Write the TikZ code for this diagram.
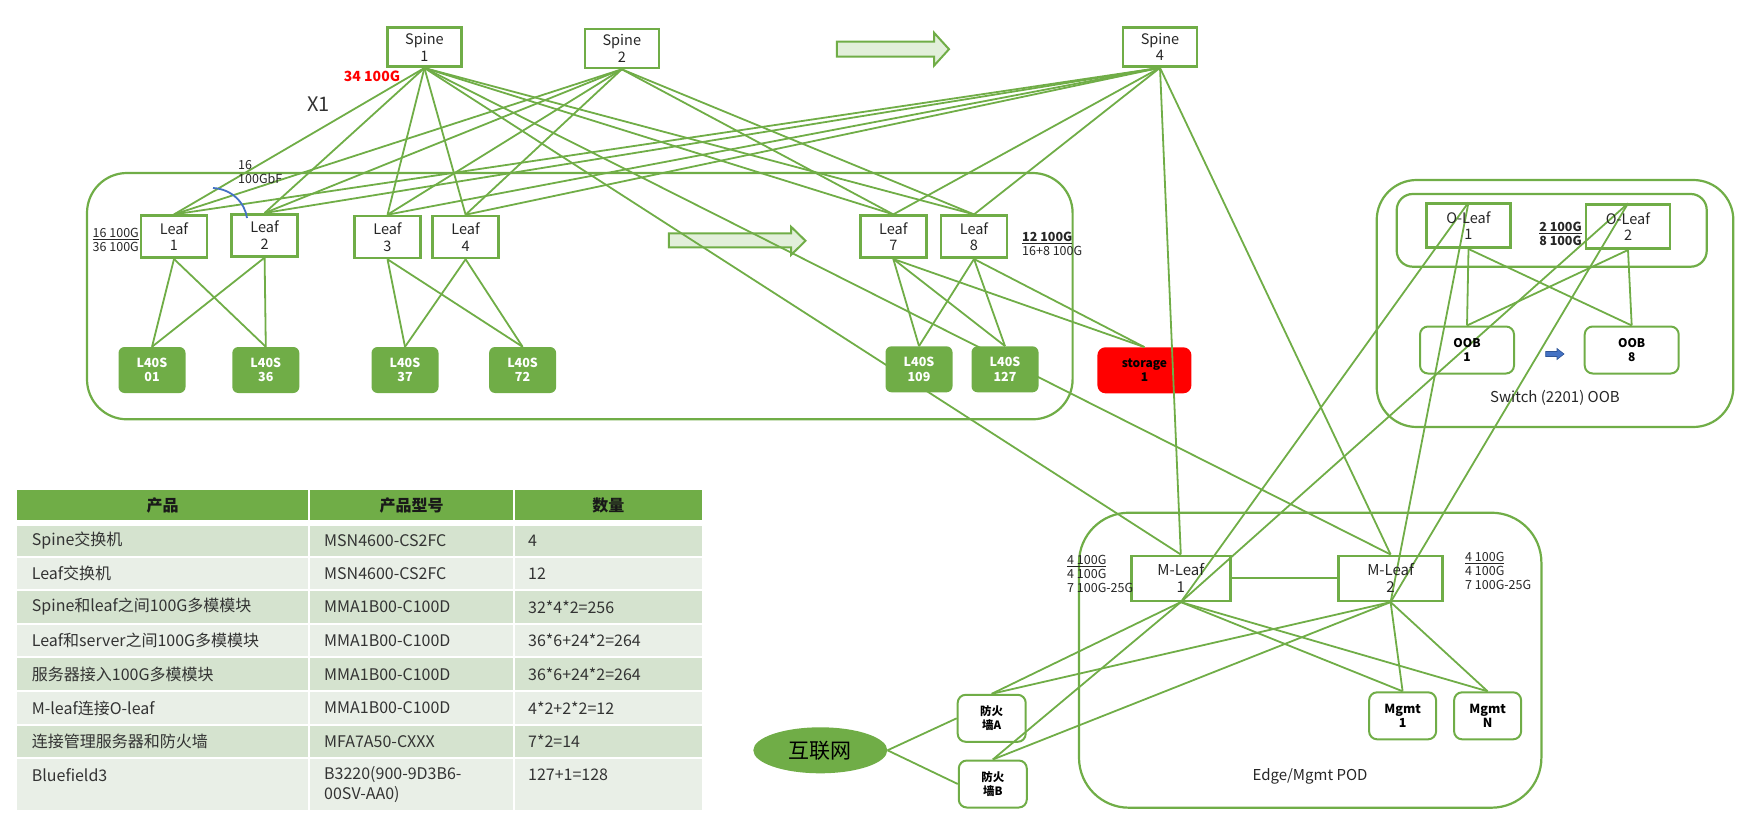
\documentclass[tikz,border=0pt]{standalone}
\usepackage{fontspec}
\setmainfont{Noto Sans CJK SC}
\usetikzlibrary{shapes.geometric}
\definecolor{gl}{HTML}{70AD47}
\definecolor{afill}{HTML}{E2EFDA}
\definecolor{rowd}{HTML}{D5E3CF}
\definecolor{rowl}{HTML}{E9EFE7}
\definecolor{bl}{HTML}{4472C4}
\definecolor{dbl}{HTML}{2F5597}
\pgfdeclarelayer{bg}
\pgfdeclarelayer{wires}
\pgfsetlayers{bg,wires,main}
\tikzset{
  sw/.style={draw=gl, line width=2.6pt, inner sep=0pt, align=center, text=black!85, font=\fontsize{14.5}{16.5}\selectfont},
  spinebox/.style={sw, minimum width=74pt, minimum height=39pt},
  leafbox/.style={sw, minimum width=66pt, minimum height=42pt},
  oleafbox/.style={sw, minimum width=84pt, minimum height=44pt},
  mleafbox/.style={sw, minimum height=45pt, font=\fontsize{15}{17}\selectfont},
  gpu/.style={fill=gl, rounded corners=6pt, minimum width=67pt, minimum height=46pt, inner sep=0pt, align=center, text=white, font=\bfseries\fontsize{12.5}{14.5}\selectfont},
  sbox/.style={draw=gl, line width=2pt, rounded corners=8pt, inner sep=0pt, align=center, text=black, font=\bfseries\fontsize{12}{14}\selectfont},
  podbox/.style={draw=gl, line width=2.2pt},
  wire/.style={draw=gl, line width=1.8pt},
  lbl/.style={inner sep=0pt, text=black!85, font=\fontsize{12.5}{14}\selectfont},
  bigarrow/.style={draw=gl, line width=2pt, fill=afill},
  tcell/.style={inner sep=0pt, anchor=west, text=black!80, font=\fontsize{16}{19}\selectfont},
  thead/.style={inner sep=0pt, text=black!90, font=\bfseries\fontsize{16}{19}\selectfont},
}
\begin{document}
\begin{tikzpicture}[x=1pt,y=-1pt]
\useasboundingbox (0,0) rectangle (1760,834);

\begin{pgfonlayer}{bg}
\draw[podbox, rounded corners=40pt] (87,173) rectangle (1072.6,419.3);
\draw[podbox, rounded corners=40pt] (1376.7,180) rectangle (1733.3,427);
\draw[podbox, rounded corners=16pt] (1396.7,194) rectangle (1706.7,266.7);
\draw[podbox, rounded corners=50pt] (1079,512.7) rectangle (1541.4,807.7);
\draw[bigarrow] (836.9,41.7) -- (934,41.7) -- (934,32.7) -- (949,49.2) -- (934,65.7) -- (934,56.7) -- (836.9,56.7) -- cycle;
\draw[bigarrow] (668.9,233.3) -- (791,233.3) -- (791,226.7) -- (805.5,240.8) -- (791,255) -- (791,247.3) -- (668.9,247.3) -- cycle;
\node[fill=red, rounded corners=8pt, minimum width=94pt, minimum height=46pt, inner sep=0pt, align=center, text=black, font=\bfseries\fontsize{12}{14.5}\selectfont] (st) at (1144.4,370.3) {storage\\1};
\end{pgfonlayer}

% switches
\node[spinebox] (s1) at (424.4,47.2) {Spine\\1};
\node[spinebox] (s2) at (621.8,48.5) {Spine\\2};
\node[spinebox] (s4) at (1160,47) {Spine\\4};
\node[leafbox] (l1) at (174,236.7) {Leaf\\1};
\node[leafbox] (l2) at (264.6,235.3) {Leaf\\2};
\node[leafbox] (l3) at (387.5,237) {Leaf\\3};
\node[leafbox] (l4) at (465.6,237) {Leaf\\4};
\node[leafbox] (l7) at (893.3,236.7) {Leaf\\7};
\node[leafbox] (l8) at (974,236.7) {Leaf\\8};
\node[gpu] (g1) at (152,370) {L40S\\01};
\node[gpu] (g36) at (265.8,370) {L40S\\36};
\node[gpu] (g37) at (405,370) {L40S\\37};
\node[gpu] (g72) at (522.6,370) {L40S\\72};
\node[gpu] (g109) at (919,369.3) {L40S\\109};
\node[gpu] (g127) at (1005,369.3) {L40S\\127};
\node[oleafbox] (o1) at (1468.5,225.7) {O-Leaf\\1};
\node[oleafbox] (o2) at (1628,226.7) {O-Leaf\\2};
\node[sbox, minimum width=94pt, minimum height=47pt] (b1) at (1467,350) {OOB\\1};
\node[sbox, minimum width=94pt, minimum height=47pt] (b8) at (1631.7,350) {OOB\\8};
\node[mleafbox, minimum width=99pt] (m1) at (1180.8,578.3) {M-Leaf\\1};
\node[mleafbox, minimum width=104pt] (m2) at (1390.6,578.3) {M-Leaf\\2};
\node[sbox, minimum width=67pt, minimum height=47pt, font=\bfseries\fontsize{12.5}{14.5}\selectfont] (mg1) at (1402.6,715.8) {Mgmt\\1};
\node[sbox, minimum width=67pt, minimum height=47pt, font=\bfseries\fontsize{12.5}{14.5}\selectfont] (mgn) at (1487.6,715.8) {Mgmt\\N};
\node[sbox, minimum width=68pt, minimum height=47pt, font=\bfseries\fontsize{11.5}{14.3}\selectfont] (fa) at (991.7,718.3) {防火\\墙A};
\node[sbox, minimum width=68pt, minimum height=47pt, font=\bfseries\fontsize{11.5}{14.3}\selectfont] (fb) at (992.8,784) {防火\\墙B};
\node[ellipse, fill=gl, minimum width=134pt, minimum height=46pt, inner sep=0pt, text=black, font=\fontsize{21}{24}\selectfont] (net) at (820.3,750.3) {互联网};

% connectors
\begin{pgfonlayer}{wires}
\foreach \s in {s1,s2,s4}{\foreach \l in {l1,l2,l3,l4,l7,l8}{\draw[wire] (\s.south) -- (\l.north);}}
\foreach \s in {s1,s4}{\foreach \m in {m1,m2}{\draw[wire] (\s.south) -- (\m.north);}}
\foreach \l in {l1,l2}{\foreach \g in {g1,g36}{\draw[wire] (\l.south) -- (\g.north);}}
\foreach \l in {l3,l4}{\foreach \g in {g37,g72}{\draw[wire] (\l.south) -- (\g.north);}}
\foreach \l in {l7,l8}{\foreach \g in {g109,g127,st}{\draw[wire] (\l.south) -- (\g.north);}}
\foreach \o in {o1,o2}{\foreach \b in {b1,b8}{\draw[wire] (\o.south) -- (\b.north);}}
\foreach \o in {o1,o2}{\foreach \m in {m1,m2}{\draw[wire] (\o.north) -- (\m.south);}}
\draw[wire] (m1.east) -- (m2.west);
\foreach \m in {m1,m2}{\foreach \t in {mg1,mgn,fa,fb}{\draw[wire] (\m.south) -- (\t.north);}}
\draw[wire] (net.east) -- (fa.west);
\draw[wire] (net.east) -- (fb.west);
\end{pgfonlayer}

% decorations
\draw[bl, line width=1.8pt] (213,188) .. controls (232,189) and (245,203) .. (247,218);
\draw[fill=bl, draw=dbl, line width=0.6pt] (1545.7,351.5) -- (1557,351.5) -- (1557,348.5) -- (1564,354) -- (1557,359.5) -- (1557,356.5) -- (1545.7,356.5) -- cycle;

% labels
\node[lbl, anchor=east, align=right] (n1) at (139,240.3) {\underline{16 100G}\\36 100G};
\node[lbl, anchor=west, align=left] (n2) at (238,172) {16\\100GbF};
\node[inner sep=0pt, text=black!80, font=\fontsize{20}{24}\selectfont] (n3) at (318.6,104) {X1};
\node[inner sep=0pt, text=red, font=\bfseries\fontsize{14}{16}\selectfont] (n4) at (372,76.5) {34 100G};
\node[lbl, anchor=west, align=left] (n5) at (1022,243.7) {\textbf{\underline{12 100G}}\\16+8 100G};
\node[lbl, align=center, font=\bfseries\fontsize{12.5}{14}\selectfont] (n6) at (1560.5,234) {\underline{2 100G}\\8 100G};
\node[lbl, anchor=west, align=left] (n7) at (1067,574) {\underline{4 100G}\\4 100G\\7 100G-25G};
\node[lbl, anchor=west, align=left] (n8) at (1465,571) {\underline{4 100G}\\4 100G\\7 100G-25G};
\node[inner sep=0pt, text=black!85, font=\fontsize{15}{17}\selectfont] (n9) at (1555,398.3) {Switch (2201) OOB};
\node[inner sep=0pt, text=black!85, font=\fontsize{15}{17}\selectfont] (n10) at (1310,776.7) {Edge/Mgmt POD};

% table
\fill[gl] (17.4,490) rectangle (307.6,520);
\fill[gl] (310,490) rectangle (512.9,520);
\fill[gl] (515,490) rectangle (701.6,520);
\node[thead] (h1) at (162.5,505.5) {产品};
\node[thead] (h2) at (411.5,505.5) {产品型号};
\node[thead] (h3) at (608.3,505.5) {数量};
\foreach \t/\b/\c/\ta/\tb/\tc [count=\i] in {
526/556/rowd/Spine交换机/MSN4600-CS2FC/4,
558/589/rowl/Leaf交换机/MSN4600-CS2FC/12,
591.3/622.7/rowd/Spine和leaf之间100G多模模块/MMA1B00-C100D/32*4*2=256,
625/656/rowl/Leaf和server之间100G多模模块/MMA1B00-C100D/36*6+24*2=264,
658.3/690/rowd/服务器接入100G多模模块/MMA1B00-C100D/36*6+24*2=264,
692/724/rowl/M-leaf连接O-leaf/MMA1B00-C100D/4*2+2*2=12,
726/757/rowd/连接管理服务器和防火墙/MFA7A50-CXXX/7*2=14}{
  \fill[\c] (17.4,\t) rectangle (307.6,\b);
  \fill[\c] (310,\t) rectangle (512.9,\b);
  \fill[\c] (515,\t) rectangle (701.6,\b);
  \node[tcell] (ra\i) at (31.7,{(\t+\b)/2}) {\ta};
  \node[tcell] (rb\i) at (324,{(\t+\b)/2}) {\tb};
  \node[tcell] (rc\i) at (528,{(\t+\b)/2}) {\tc};
}
\fill[rowl] (17.4,759.3) rectangle (307.6,810);
\fill[rowl] (310,759.3) rectangle (512.9,810);
\fill[rowl] (515,759.3) rectangle (701.6,810);
\node[tcell] (ra8) at (31.7,775) {Bluefield3};
\node[tcell] (rb8) at (324,775) {B3220(900-9D3B6-};
\node[tcell] (rb8b) at (324,794.5) {00SV-AA0)};
\node[tcell] (rc8) at (528,775) {127+1=128};
\end{tikzpicture}
\end{document}
